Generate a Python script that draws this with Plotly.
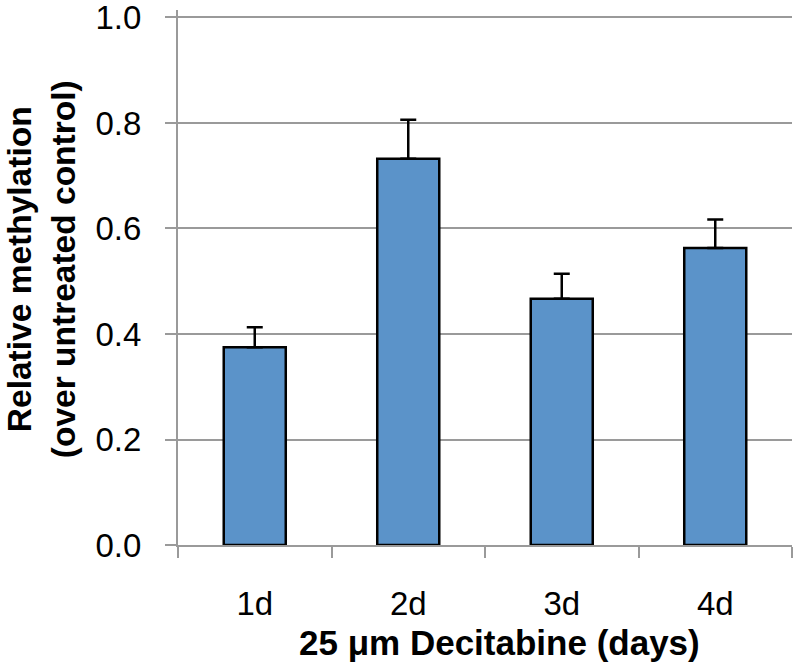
import plotly.graph_objects as go

categories = ["1d", "2d", "3d", "4d"]
values = [0.375, 0.732, 0.467, 0.563]
errors_plus = [0.038, 0.074, 0.047, 0.054]
y_ticks = [0.0, 0.2, 0.4, 0.6, 0.8, 1.0]
y_tick_labels = ["0.0", "0.2", "0.4", "0.6", "0.8", "1.0"]

FONT = "Liberation Sans, Arial, sans-serif"
GRAY = "#9a9a9a"

fig = go.Figure()
fig.add_trace(go.Bar(
    x=categories, y=values,
    marker=dict(color="#5B93C9", line=dict(color="black", width=2.5)),
    error_y=dict(type="data", symmetric=False, array=errors_plus,
                 arrayminus=[0] * len(values), color="black",
                 thickness=2.5, width=8),
    showlegend=False,
))

fig.update_layout(
    width=800, height=669,
    margin=dict(l=178, r=8, t=10, b=124),
    paper_bgcolor="white", plot_bgcolor="white",
    bargap=0.596,
    font=dict(family=FONT, color="black"),
    xaxis=dict(
        type="category", tickson="boundaries", ticks="outside", ticklen=11,
        tickwidth=2, tickcolor=GRAY, showline=True, linecolor=GRAY, linewidth=2,
        showgrid=False, tickfont=dict(size=33, family=FONT),
        ticklabelstandoff=28, automargin=False,
    ),
    yaxis=dict(
        range=[0, 1.0142], tickvals=y_ticks, ticktext=y_tick_labels,
        ticks="outside", ticklen=11, tickwidth=2, tickcolor=GRAY,
        showline=True, linecolor=GRAY, linewidth=2,
        showgrid=True, gridcolor=GRAY, gridwidth=2, zeroline=False,
        tickfont=dict(size=33, family=FONT), ticklabelstandoff=17,
        ticklabeloverflow="allow", automargin=False,
    ),
    annotations=[
        dict(text="<b>Relative methylation<br>(over untreated control)</b>",
             xref="paper", yref="paper", x=-0.222, y=0.515,
             xanchor="center", yanchor="middle", textangle=-90,
             showarrow=False, font=dict(size=33.5, family=FONT)),
        dict(text="<b>25 \u03bcm Decitabine (days)</b>",
             xref="paper", yref="paper", x=0.524, y=-0.183,
             xanchor="center", yanchor="middle",
             showarrow=False, font=dict(size=35, family=FONT)),
    ],
)

fig.write_html("out.html", config={"displayModeBar": False},
               post_script="document.body.style.margin='0px';")
